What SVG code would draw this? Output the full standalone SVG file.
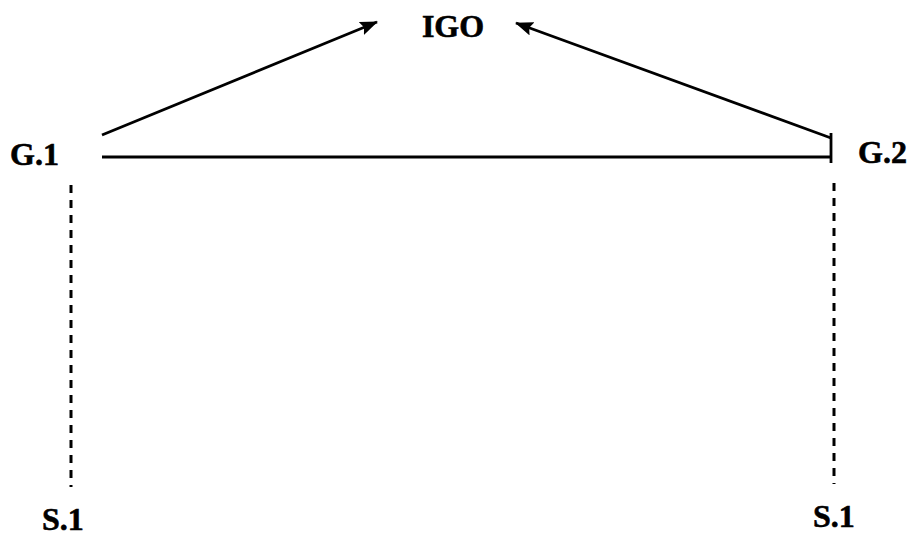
<svg xmlns="http://www.w3.org/2000/svg" width="910" height="538" viewBox="0 0 910 538">
  <defs>
    <style>
      .lbl { font-family: "Liberation Serif", "Times New Roman", serif; font-weight: bold; font-size: 32px; fill: #000; stroke: #000; stroke-width: 0.6; }
      .edge { stroke: #000; stroke-width: 2.8; fill: none; }
      .dash { stroke: #000; stroke-width: 3; fill: none; stroke-dasharray: 8 7; }
    </style>
    <marker id="arrow" viewBox="0 0 18 14" refX="17" refY="7" markerWidth="18" markerHeight="14" markerUnits="userSpaceOnUse" orient="auto">
      <path d="M0,0 L18,7 L0,14 L3,7 Z" fill="#000"/>
    </marker>
  </defs>
  <rect width="910" height="538" fill="#fff"/>

  <g id="connectors">
    <line class="edge" x1="102" y1="135" x2="377" y2="22" marker-end="url(#arrow)"/>
    <line class="edge" x1="831" y1="138" x2="516" y2="23" marker-end="url(#arrow)"/>
    <line class="edge" x1="102" y1="157" x2="831" y2="157"/>
    <line class="edge" x1="831" y1="133" x2="831" y2="163" stroke-width="3.4"/>
    <line class="dash" x1="71" y1="185" x2="71" y2="487"/>
    <line class="dash" x1="834" y1="183" x2="834" y2="484"/>
  </g>

  <g id="IGO"><text class="lbl" x="453" y="37" text-anchor="middle">IGO</text></g>
  <g id="G1"><text class="lbl" x="10" y="165">G.1</text></g>
  <g id="G2"><text class="lbl" x="858" y="163">G.2</text></g>
  <g id="S1-left"><text class="lbl" x="42" y="530">S.1</text></g>
  <g id="S1-right"><text class="lbl" x="813" y="527">S.1</text></g>
</svg>
